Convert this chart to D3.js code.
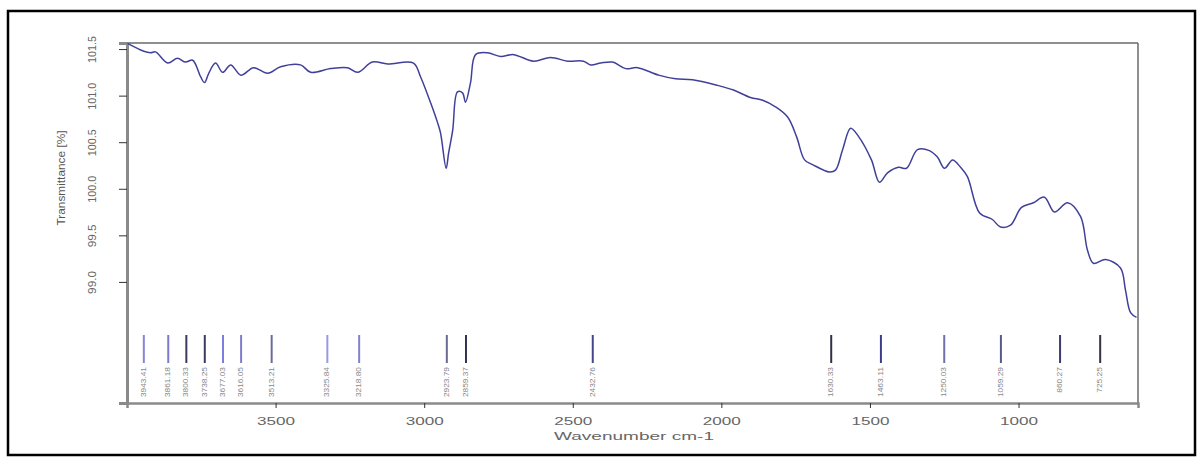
<!DOCTYPE html>
<html>
<head>
<meta charset="utf-8">
<script src="https://cdn.jsdelivr.net/npm/d3@7"></script>
<style>
  body { margin: 0; background: #fff; }
  text { font-family: "Liberation Sans", Arial, sans-serif; }
</style>
</head>
<body>
<div id="chart"></div>
<script>
// spectrum (wavenumber cm-1 / transmittance %)
const wavenumbers = [3998, 3954, 3921, 3904, 3863, 3830, 3803, 3779, 3752, 3739, 3725, 3702, 3678, 3651, 3617,
  3574, 3527, 3483, 3416, 3382, 3315, 3258, 3224, 3174, 3123, 3036, 3012, 2978, 2955, 2945, 2926, 2918,
  2904, 2888, 2871, 2861, 2844, 2827, 2787, 2743, 2699, 2632, 2575, 2517, 2464, 2440, 2406, 2366, 2322,
  2282, 2211, 2154, 2097, 2013, 1959, 1902, 1861, 1818, 1777, 1747, 1720, 1693, 1636, 1616, 1592, 1565,
  1538, 1495, 1468, 1441, 1404, 1377, 1340, 1300, 1273, 1249, 1222, 1195, 1172, 1131, 1088, 1061, 1027,
  990, 950, 913, 879, 835, 791, 768, 748, 707, 657, 640, 623, 603]
const transmittance = [101.56, 101.49, 101.46, 101.47, 101.35, 101.40, 101.36, 101.38, 101.20, 101.14, 101.24,
  101.35, 101.25, 101.33, 101.22, 101.30, 101.24, 101.31, 101.33, 101.25, 101.29, 101.30, 101.25, 101.36,
  101.34, 101.35, 101.20, 100.92, 100.71, 100.60, 100.22, 100.38, 100.63, 101.04, 101.03, 100.93, 101.14,
  101.44, 101.46, 101.42, 101.44, 101.37, 101.41, 101.37, 101.37, 101.33, 101.35, 101.36, 101.29, 101.30,
  101.22, 101.18, 101.17, 101.11, 101.06, 100.98, 100.95, 100.88, 100.77, 100.56, 100.31, 100.26, 100.18,
  100.20, 100.42, 100.65, 100.56, 100.31, 100.07, 100.17, 100.23, 100.22, 100.42, 100.41, 100.34, 100.22,
  100.31, 100.23, 100.13, 99.74, 99.67, 99.59, 99.61, 99.80, 99.85, 99.91, 99.75, 99.85, 99.70, 99.34,
  99.20, 99.24, 99.15, 98.91, 98.67, 98.62]

// picked peaks
const peakPositions = [3943.41, 3861.18, 3800.33, 3738.25, 3677.03, 3616.05, 3513.21, 3325.84, 3218.80,
  2923.79, 2859.37, 2432.76, 1630.33, 1463.11, 1250.03, 1059.29, 860.27, 725.25]
const peakLabels = ["3943.41", "3861.18", "3800.33", "3738.25", "3677.03", "3616.05", "3513.21", "3325.84",
  "3218.80", "2923.79", "2859.37", "2432.76", "1630.33", "1463.11", "1250.03", "1059.29", "860.27", "725.25"]
const peakColors = ["#8585d6", "#7b7bcc", "#3a3a5c", "#3a3a5c", "#7d7de0", "#7d7dcc", "#6a6a9a", "#9a9ae0",
  "#8080d0", "#6a6a90", "#303050", "#45458a", "#303048", "#3c3c88", "#7070a8", "#5a5a8a", "#3a3a70", "#333348"]

const xTicks = [3500, 3000, 2500, 2000, 1500, 1000]
const yTicks = [101.5, 101.0, 100.5, 100.0, 99.5, 99.0]

const ancho = 1203, alto = 464
const margen = { superior: 43, inferior: 61, izquierdo: 127, derecho: 65 }
const plotW = ancho - margen.izquierdo - margen.derecho
const plotH = alto - margen.superior - margen.inferior

const svg = d3.select("#chart").append("svg").attr("width", ancho).attr("height", alto)

// outer frame
svg.append("rect").attr("x", 8).attr("y", 11).attr("width", 1187).attr("height", 444)
  .attr("fill", "none").attr("stroke", "#000").attr("stroke-width", 2.5)

const g = svg.append("g").attr("transform", `translate(${margen.izquierdo},${margen.superior})`)

const x = d3.scaleLinear().domain([4000, 598]).range([0, plotW])
const y = d3.scaleLinear().domain([97.70, 101.565]).range([plotH, 0])

// plot box
g.append("line").attr("x1", 0).attr("x2", plotW).attr("y1", 0).attr("y2", 0)
  .attr("stroke", "#6a6a6a").attr("stroke-width", 1.5)
g.append("line").attr("x1", plotW).attr("x2", plotW).attr("y1", 0).attr("y2", plotH)
  .attr("stroke", "#6a6a6a").attr("stroke-width", 1.5)

// axes
const ejeX = d3.axisBottom(x).tickValues(xTicks).tickSize(5).tickFormat(d3.format("d"))
const grupoX = g.append("g").attr("transform", `translate(0,${plotH})`).call(ejeX)
grupoX.select(".domain").attr("stroke", "#8a8a8a").attr("stroke-width", 2.5)
grupoX.selectAll(".tick line").attr("stroke", "#333")
grupoX.selectAll(".tick text").attr("fill", "#666").attr("font-size", 10).attr("dy", "1.4em")
  .attr("textLength", 38).attr("lengthAdjust", "spacingAndGlyphs")

const ejeY = d3.axisLeft(y).tickValues(yTicks).tickSize(8).tickFormat(d3.format(".1f"))
const grupoY = g.append("g").call(ejeY)
grupoY.select(".domain").attr("stroke", "#8a8a8a").attr("stroke-width", 3)
grupoY.selectAll(".tick line").attr("stroke", "#333")
grupoY.selectAll(".tick text").attr("fill", "#666").attr("font-size", 11)
  .attr("text-anchor", "middle").attr("x", 0).attr("dy", 0)
  .attr("transform", "translate(-34,0) rotate(-90)").attr("dominant-baseline", "middle")
  .attr("textLength", d => d >= 100 ? 27 : 23).attr("lengthAdjust", "spacingAndGlyphs")

// axis titles
svg.append("text").attr("x", 634).attr("y", 440).attr("text-anchor", "middle")
  .attr("fill", "#666").attr("font-size", 10.5).attr("textLength", 160).attr("lengthAdjust", "spacingAndGlyphs")
  .text("Wavenumber cm-1")
svg.append("text").attr("transform", "translate(62,178) rotate(-90)").attr("text-anchor", "middle")
  .attr("dominant-baseline", "middle").attr("fill", "#555").attr("font-size", 10)
  .attr("textLength", 95).attr("lengthAdjust", "spacingAndGlyphs")
  .text("Transmittance [%]")

// spectrum
const datos = wavenumbers.map((w, i) => ({ w: w, t: transmittance[i] }))
const linea = d3.line().x(d => x(d.w)).y(d => y(d.t)).curve(d3.curveCatmullRom.alpha(0.5))
g.append("path").datum(datos).attr("d", linea).attr("fill", "none")
  .attr("stroke", "#40409a").attr("stroke-width", 1.5)

// peak markers
const markTop = plotH - 68, markBottom = plotH - 40
const picos = g.selectAll(".pico").data(peakPositions).enter().append("g").attr("class", "pico")
picos.append("line").attr("x1", d => x(d)).attr("x2", d => x(d))
  .attr("y1", markTop).attr("y2", markBottom)
  .attr("stroke", (d, i) => peakColors[i]).attr("stroke-width", 2)
picos.append("text")
  .attr("transform", d => `translate(${x(d)},${markBottom + 4}) rotate(-90)`)
  .attr("text-anchor", "end").attr("dominant-baseline", "middle")
  .attr("fill", "#888").attr("font-size", 8)
  .attr("textLength", (d, i) => peakLabels[i].length * 4.3).attr("lengthAdjust", "spacingAndGlyphs")
  .text((d, i) => peakLabels[i])
</script>
</body>
</html>
